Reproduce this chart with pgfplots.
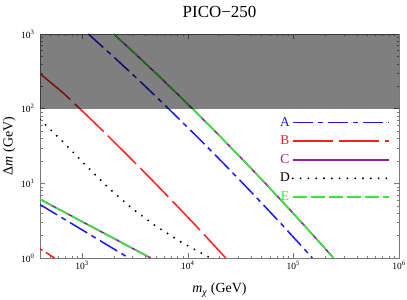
\documentclass[border=0pt]{standalone}
\usepackage{pgfplots}
\pgfplotsset{compat=1.18}
\usepackage{fontspec}
\setmainfont{Liberation Serif}
\definecolor{cA}{RGB}{25,25,235}
\definecolor{cB}{RGB}{250,30,30}
\definecolor{cC}{RGB}{150,30,155}
\definecolor{cE}{RGB}{50,235,50}
\definecolor{frame}{RGB}{120,120,120}
\begin{document}
\begin{tikzpicture}
\useasboundingbox (0,0) rectangle (407bp,300bp);
\begin{axis}[
  at={(40bp,42bp)}, anchor=south west,
  scale only axis, width=359bp, height=224bp,
  xmode=log, ymode=log,
  xmin=400, xmax=1000000, ymin=1, ymax=1000,
  xtick={1000,10000,100000,1000000},
  xticklabels={10\textsuperscript{3},10\textsuperscript{4},10\textsuperscript{5},10\textsuperscript{6}},
  ytick={1,10,100,1000},
  yticklabels={10\textsuperscript{0},10\textsuperscript{1},10\textsuperscript{2},10\textsuperscript{3}},
  minor xtick={400,500,600,700,800,900,2000,3000,4000,5000,6000,7000,8000,9000,20000,30000,40000,50000,60000,70000,80000,90000,200000,300000,400000,500000,600000,700000,800000,900000},
  minor ytick={2,3,4,5,6,7,8,9,20,30,40,50,60,70,80,90,200,300,400,500,600,700,800,900},
  tick label style={font=\fontsize{9.5}{10}\selectfont},
  yticklabel style={xshift=-2bp},
  major tick length=5bp, minor tick length=2.5bp,
  axis line style={frame},
  every tick/.style={frame},
  title={PICO−250},
  title style={at={(axis description cs:0.5,1.049)}, anchor=base, font=\fontsize{17}{18}\selectfont},
  xlabel={\textit{m}\textsubscript{\textit{χ}} (GeV)},
  xlabel style={at={(axis description cs:0.5,-0.156)}, anchor=base, font=\fontsize{14}{15}\selectfont},
  ylabel={Δ\textit{m} (GeV)},
  ylabel style={at={(axis description cs:-0.076,0.5)}, anchor=base, rotate=0, font=\fontsize{14}{15}\selectfont},
  legend plot pos=right,
  legend image code/.code={\draw[#1] (0bp,0bp) -- (96bp,0bp);},
  legend style={at={(axis description cs:0.975,0.637)}, anchor=north east, draw=none, fill=none,
    font=\fontsize{13.5}{14}\selectfont, row sep=4.2bp, inner sep=0pt},
  clip=true,
]
% A
\addplot[cA, line width=1.5bp, dash pattern=on 20bp off 5bp on 5bp off 5bp] coordinates {
(1148,1000)(1837,548.3)(2938,297.2)(4699,158.5)(7499,83.56)(11995,43.45)(19187,22.28)(30690,11.27)(49091,5.623)(78524,2.767)(125314,1.343)(151356,1.0)};
\addlegendentry{\textcolor{cA}{A}}
% B
\addplot[cB, line width=1.5bp, dash pattern=on 40bp off 6bp] coordinates {
(400,295)(676.1,158.5)(1089,83.56)(1754,43.45)(2818,22.28)(4539,11.27)(7311,5.623)(11776,2.767)(18923,1.343)(22909,1.0)};
\addlegendentry{\textcolor{cB}{B}}
% C
\addplot[cC, line width=1.6bp, solid] coordinates {
(1995,1000)(3162,548.3)(5012,297.2)(7943,158.5)(12589,83.56)(19953,43.45)(31623,22.28)(50119,11.27)(79433,5.623)(125893,2.767)(199526,1.343)(239883,1.0)};
\addlegendentry{\textcolor{cC}{C}}
% D
\addplot[black, line width=2.1bp, line cap=round, dash pattern=on 0bp off 7.8bp] coordinates {
(400,71.8)(676.1,34.75)(1084,17.46)(1770,8.75)(2985,4.58)(5129,2.606)(9162,1.560)(14690,1.091)(16400,1.0)};
\addlegendentry{D}
% E
\addplot[cE, line width=1.5bp, dash pattern=on 14bp off 4bp] coordinates {
(1995,1000)(3162,548.3)(5012,297.2)(7943,158.5)(12589,83.56)(19953,43.45)(31623,22.28)(50119,11.27)(79433,5.623)(125893,2.767)(199526,1.343)(239883,1.0)};
\addlegendentry{\textcolor{cE}{E}}
% lower branches
\addplot[cA, line width=1.5bp, dash pattern=on 20bp off 5bp on 5bp off 5bp, forget plot] coordinates {(400,5.2)(2773,1.0)};
\addplot[cB, line width=1.5bp, dash pattern=on 3bp off 4bp on 40bp off 6bp, forget plot] coordinates {(400,1.33)(550,1.0)};
\addplot[cC, line width=1.6bp, forget plot] coordinates {(400,6.12)(4467,1.0)};
\addplot[cE, line width=1.5bp, dash pattern=on 14bp off 4bp, forget plot] coordinates {(400,6.12)(4467,1.0)};
% shaded excluded region
\addplot[draw=none, fill=black, fill opacity=0.5, forget plot] coordinates {(400,100)(1000000,100)(1000000,1000)(400,1000)} -- cycle;
\end{axis}
\end{tikzpicture}
\end{document}
